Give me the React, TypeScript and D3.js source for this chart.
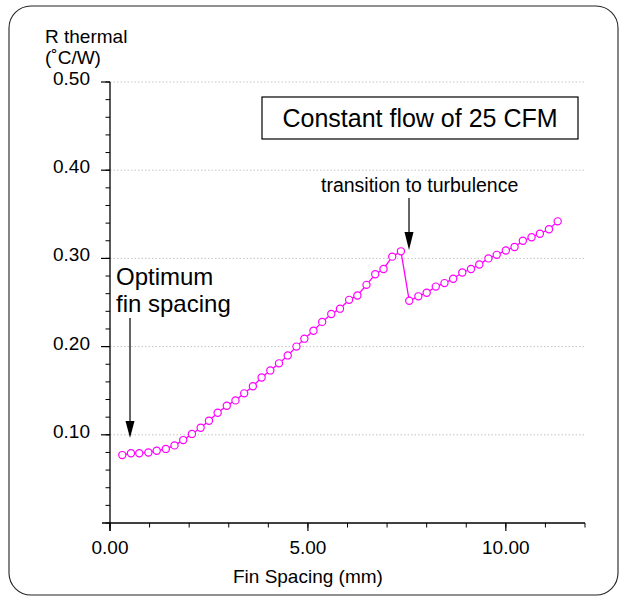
import React from "react";
import * as d3 from "d3";

const spacingMm = [
  0.31, 0.53, 0.74, 0.97, 1.18, 1.41, 1.63, 1.85, 2.07, 2.29, 2.5, 2.72, 2.95,
  3.17, 3.39, 3.61, 3.83, 4.05, 4.27, 4.49, 4.71, 4.91, 5.14, 5.36, 5.59, 5.81,
  6.04, 6.25, 6.48, 6.7, 6.91, 7.13, 7.35,
  7.56, 7.79, 8.0, 8.23, 8.45, 8.67, 8.9, 9.12, 9.33, 9.56, 9.77, 10.0, 10.22,
  10.43, 10.65, 10.86, 11.09, 11.31,
];
const rThermal = [
  0.077, 0.079, 0.079, 0.08, 0.082, 0.084, 0.088, 0.094, 0.101, 0.108, 0.116,
  0.125, 0.133, 0.139, 0.147, 0.155, 0.165, 0.173, 0.181, 0.19, 0.2, 0.209,
  0.218, 0.228, 0.237, 0.243, 0.253, 0.258, 0.27, 0.282, 0.288, 0.302, 0.308,
  0.252, 0.257, 0.261, 0.268, 0.272, 0.277, 0.284, 0.288, 0.293, 0.3, 0.304,
  0.309, 0.313, 0.32, 0.324, 0.328, 0.333, 0.342,
];
const yMajorTicks = [0.1, 0.2, 0.3, 0.4, 0.5];
const yTickLabels = ["0.10", "0.20", "0.30", "0.40", "0.50"];
const xMajorTicks = [0, 5, 10];
const xTickLabels = ["0.00", "5.00", "10.00"];

const W = 621;
const H = 597;
const FONT = "'Liberation Sans', Arial, Helvetica, sans-serif";
const MAGENTA = "#ff00ff";

export default function App() {
  const x = d3.scaleLinear().domain([0, 12]).range([110, 585]);
  const y = d3.scaleLinear().domain([0, 0.5]).range([523, 82]);
  const pts = spacingMm.map((s, i) => [s, rThermal[i]] as [number, number]);
  const line = d3
    .line<[number, number]>()
    .x((d) => x(d[0]))
    .y((d) => y(d[1]));
  const yMinor = y.ticks(25);
  const xMinor = x.ticks(12);
  const x0 = x(0);
  const y0 = y(0);

  return (
    <svg
      width={W}
      height={H}
      style={{ position: "absolute", left: 0, top: 0, background: "#fff" }}
      fontFamily={FONT}
    >
      <rect x={9} y={6} width={609} height={589} rx={22} ry={22} fill="#fff" stroke="#222" strokeWidth={1.1} />

      {/* grid */}
      {yMajorTicks.map((t) => (
        <line key={"g" + t} x1={x0} x2={x(12)} y1={y(t)} y2={y(t)} stroke="#c4c4c4" strokeWidth={1} strokeDasharray="1.5,2" />
      ))}

      {/* y axis */}
      <line x1={x0} x2={x0} y1={y(0.5)} y2={y0 + 8} stroke="#000" strokeWidth={1.3} />
      {yMinor.map((t) => (
        <line key={"ym" + t} x1={x0 - 4.5} x2={x0} y1={y(t)} y2={y(t)} stroke="#000" strokeWidth={1} />
      ))}
      {yMajorTicks.map((t, i) => (
        <g key={"yM" + t}>
          <line x1={x0 - 9} x2={x0} y1={y(t)} y2={y(t)} stroke="#000" strokeWidth={1.2} />
          <text x={90} y={y(t) + 3} textAnchor="end" fontSize={19} fill="#000">
            {yTickLabels[i]}
          </text>
        </g>
      ))}

      {/* x axis */}
      <line x1={x0 - 8} x2={x(12)} y1={y0} y2={y0} stroke="#000" strokeWidth={1.3} />
      {xMinor.map((t) => (
        <line key={"xm" + t} x1={x(t)} x2={x(t)} y1={y0} y2={y0 + 4.5} stroke="#000" strokeWidth={1} />
      ))}
      {xMajorTicks.map((t, i) => (
        <g key={"xM" + t}>
          <line x1={x(t)} x2={x(t)} y1={y0} y2={y0 + 8} stroke="#000" strokeWidth={1.2} />
          <text x={x(t)} y={554} textAnchor="middle" fontSize={19} fill="#000">
            {xTickLabels[i]}
          </text>
        </g>
      ))}
      <text x={x(5)} y={583} textAnchor="middle" fontSize={19} fill="#000">
        Fin Spacing (mm)
      </text>

      {/* y title */}
      <text x={45} y={43} fontSize={19} fill="#000">R thermal</text>
      <text x={45} y={64} fontSize={19} fill="#000">(˚C/W)</text>

      {/* legend box */}
      <rect x={262} y={97} width={316} height={42} fill="#fff" stroke="#000" strokeWidth={1.2} />
      <text x={420} y={127} textAnchor="middle" fontSize={25} fill="#000">
        Constant flow of 25 CFM
      </text>

      {/* annotations */}
      <text x={116} y={285} fontSize={24} fill="#000">Optimum</text>
      <text x={116} y={312} fontSize={24} fill="#000">fin spacing</text>
      <line x1={130} x2={130} y1={318} y2={422} stroke="#333" strokeWidth={1.5} />
      <polygon points="125.5,421 134.5,421 130,438" fill="#000" />

      <text x={321} y={192} fontSize={19.5} fill="#000">transition to turbulence</text>
      <line x1={409} x2={409} y1={198} y2={233} stroke="#333" strokeWidth={1.5} />
      <polygon points="404.5,232 413.5,232 409,250" fill="#000" />

      {/* series */}
      <path d={line(pts) || ""} fill="none" stroke={MAGENTA} strokeWidth={1.3} />
      {pts.map((p, i) => (
        <circle key={"c" + i} cx={x(p[0])} cy={y(p[1])} r={3.6} fill="#fff" stroke={MAGENTA} strokeWidth={1.2} />
      ))}
    </svg>
  );
}
